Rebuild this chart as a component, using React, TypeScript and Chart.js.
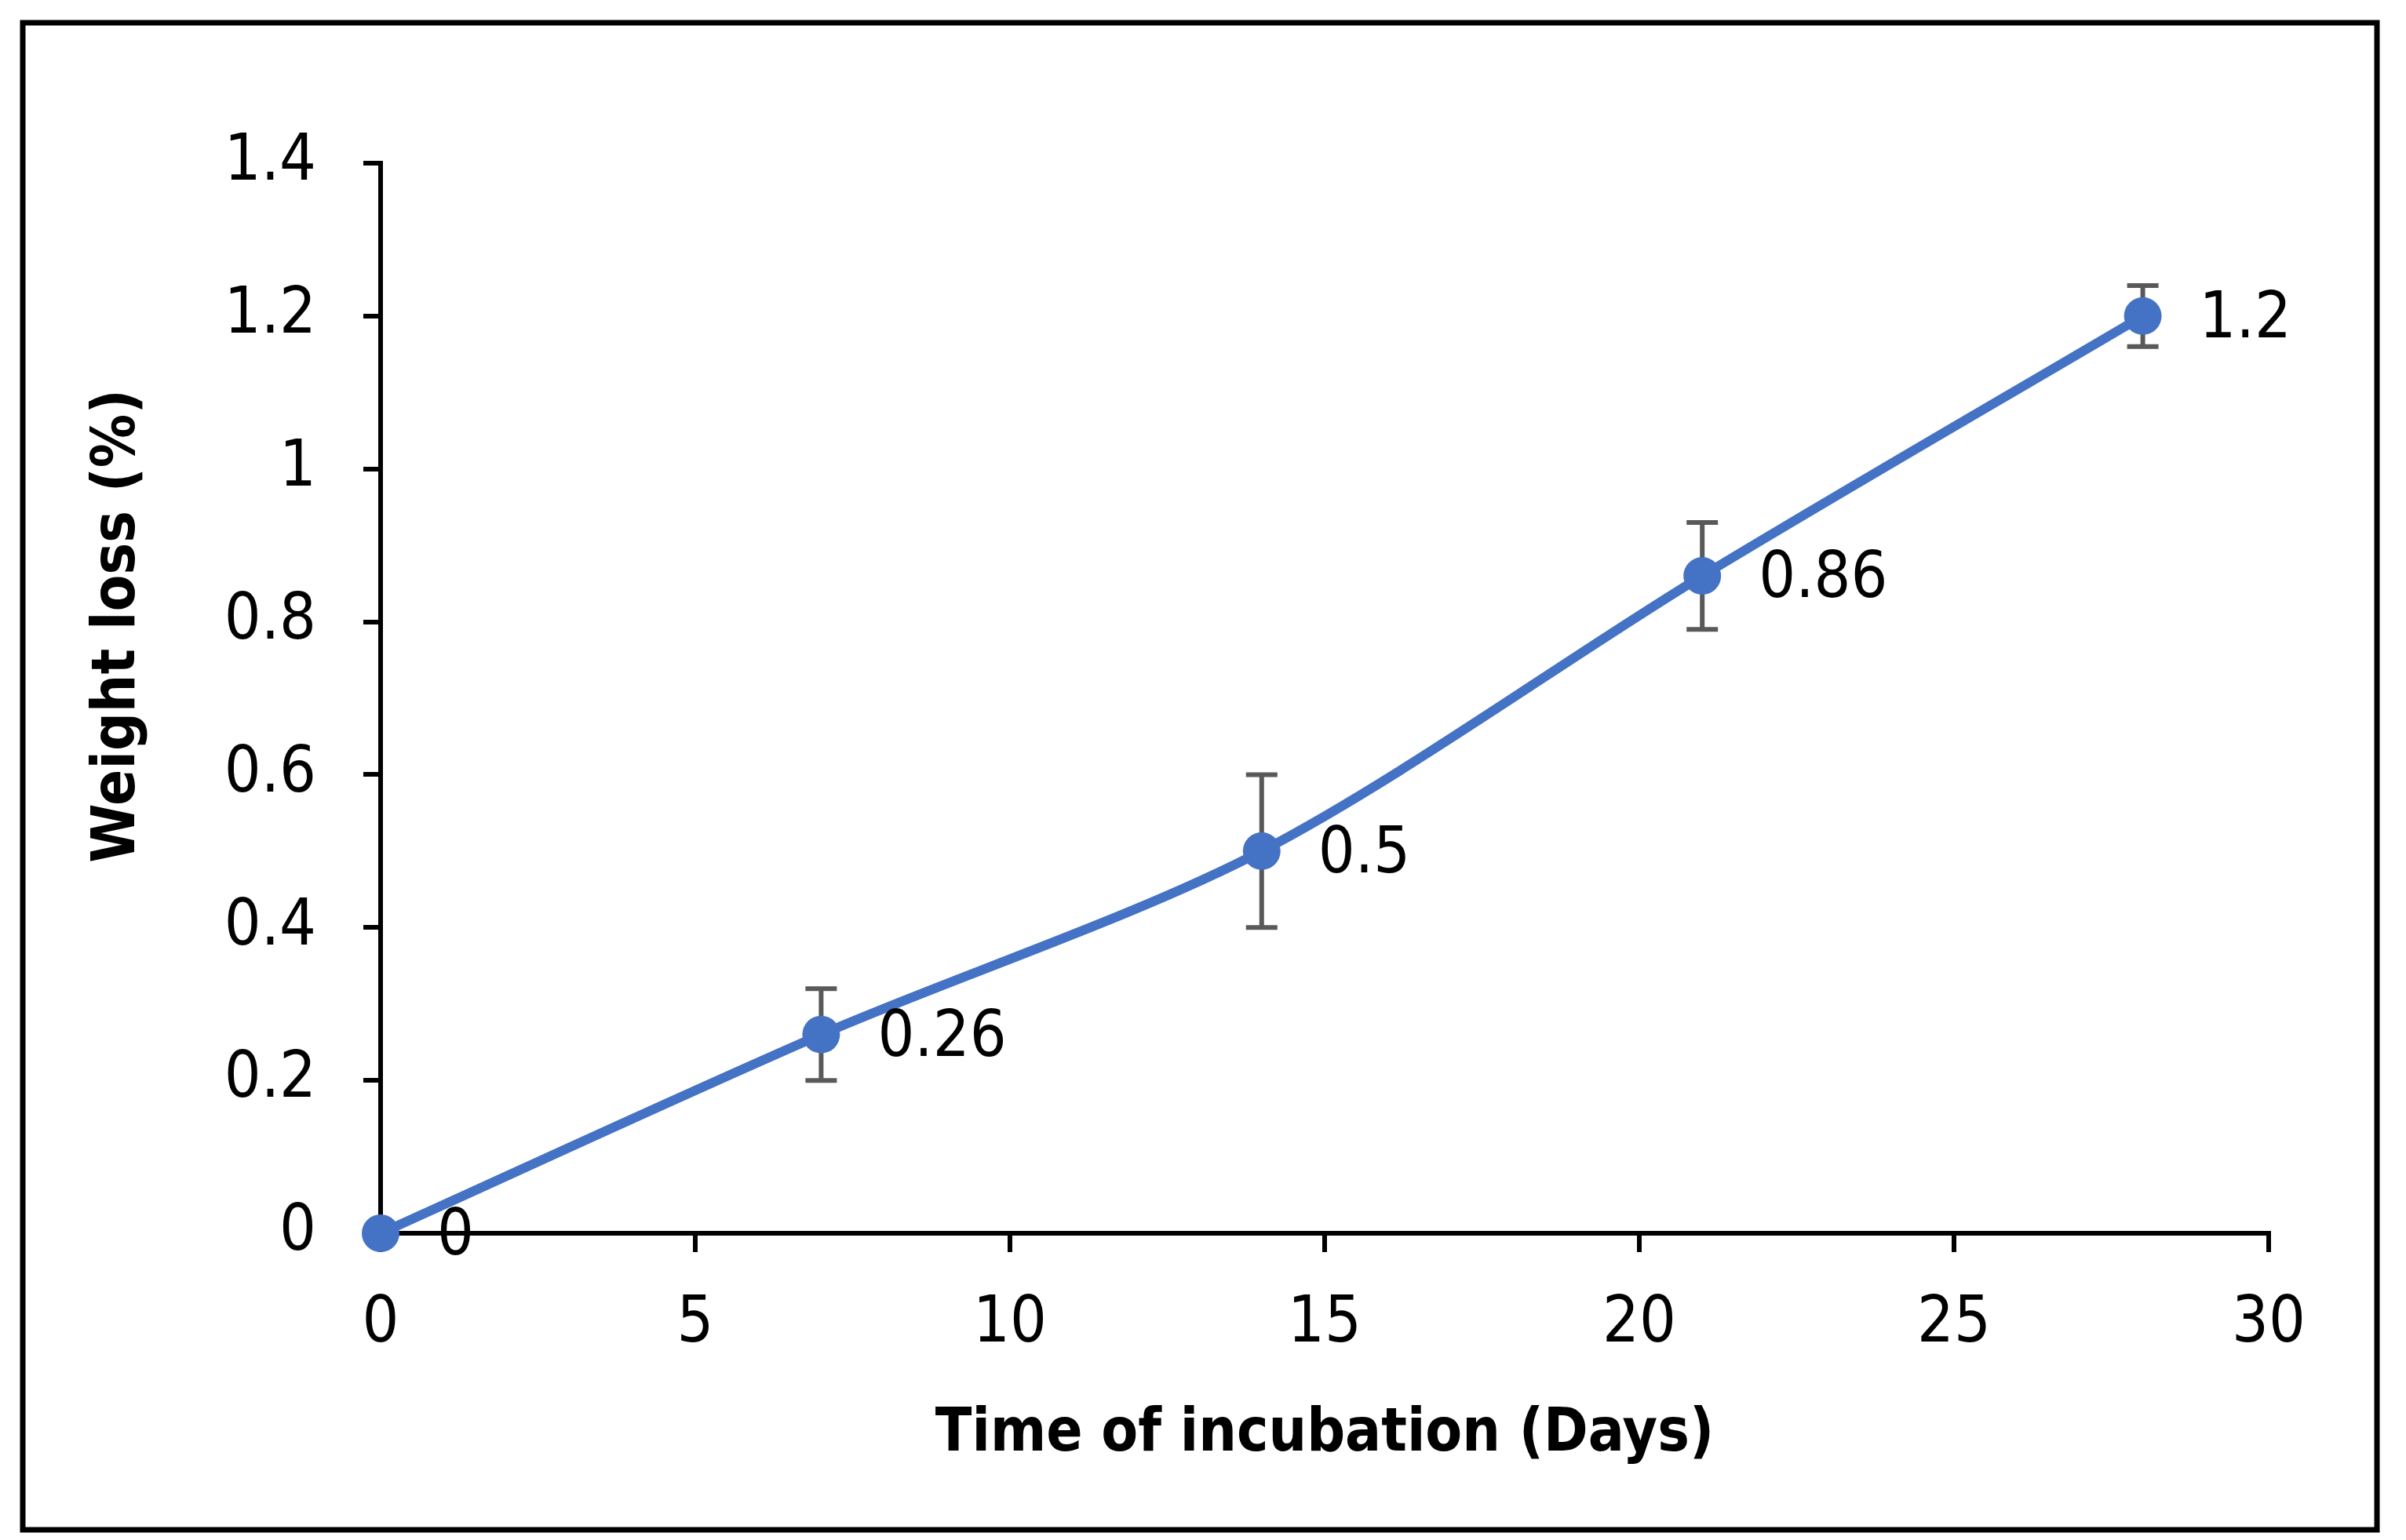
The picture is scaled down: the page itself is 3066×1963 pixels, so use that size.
import React, { useEffect, useRef } from "react";
import { Chart, registerables } from "chart.js";
Chart.register(...registerables);

// ---- data ----
const days = [0, 7, 14, 21, 28];
const weightLoss = [0, 0.26, 0.5, 0.86, 1.2];
const errPlus = [0, 0.06, 0.1, 0.07, 0.04];
const errMinus = [0, 0.06, 0.1, 0.07, 0.04];
const pointLabels = ["0", "0.26", "0.5", "0.86", "1.2"];
const yTickLabels = ["0", "0.2", "0.4", "0.6", "0.8", "1", "1.2", "1.4"];
const xTickLabels = ["0", "5", "10", "15", "20", "25", "30"];
const xTitle = "Time of incubation (Days)";
const yTitle = "Weight loss (%)";

const FONT = "'Liberation Sans Narrow', 'Arial Narrow', 'DejaVu Sans Condensed', 'Open Sans', sans-serif";
const BLUE = "#4472C4";
const TICK_SIZE = 82;
const TITLE_SIZE = 76;

const W = 3066;
const H = 1963;

const borderPlugin = {
  id: "outerBorder",
  beforeDraw(chart: any) {
    const ctx = chart.ctx;
    ctx.save();
    ctx.fillStyle = "#fff";
    ctx.fillRect(0, 0, chart.width, chart.height);
    ctx.strokeStyle = "#000";
    ctx.lineWidth = 7;
    ctx.strokeRect(29, 29, 3000, 1921);
    ctx.restore();
  },
};

const errorBarPlugin = {
  id: "errorBars",
  beforeDatasetsDraw(chart: any) {
    const ctx = chart.ctx;
    const xs = chart.scales.x;
    const ys = chart.scales.y;
    ctx.save();
    ctx.strokeStyle = "#595959";
    ctx.lineWidth = 6;
    days.forEach((d, i) => {
      if (!errPlus[i] && !errMinus[i]) return;
      const px = xs.getPixelForValue(d);
      const top = ys.getPixelForValue(weightLoss[i] + errPlus[i]);
      const bot = ys.getPixelForValue(weightLoss[i] - errMinus[i]);
      ctx.beginPath();
      ctx.moveTo(px, top);
      ctx.lineTo(px, bot);
      ctx.moveTo(px - 20, top);
      ctx.lineTo(px + 20, top);
      ctx.moveTo(px - 20, bot);
      ctx.lineTo(px + 20, bot);
      ctx.stroke();
    });
    ctx.restore();
  },
};

const labelPlugin = {
  id: "pointLabels",
  afterDatasetsDraw(chart: any) {
    const ctx = chart.ctx;
    const meta = chart.getDatasetMeta(0);
    ctx.save();
    ctx.fillStyle = "#000";
    ctx.font = `${TICK_SIZE}px ${FONT}`;
    ctx.textAlign = "left";
    ctx.textBaseline = "middle";
    meta.data.forEach((pt: any, i: number) => {
      ctx.fillText(pointLabels[i], pt.x + 72, pt.y + 6);
    });
    // y axis title
    const area = chart.chartArea;
    ctx.translate(151, (area.top + area.bottom) / 2 - 92);
    ctx.rotate(-Math.PI / 2);
    ctx.font = `bold ${TITLE_SIZE}px ${FONT}`;
    ctx.textAlign = "center";
    ctx.fillText(yTitle, 0, 0);
    ctx.restore();
  },
};

export default function App() {
  const ref = useRef<HTMLCanvasElement | null>(null);
  useEffect(() => {
    if (!ref.current) return;
    const chart = new Chart(ref.current, {
      type: "line",
      data: {
        datasets: [
          {
            data: days.map((d, i) => ({ x: d, y: weightLoss[i] })),
            borderColor: BLUE,
            backgroundColor: BLUE,
            borderWidth: 12,
            pointRadius: 24,
            pointBorderWidth: 0,
            pointBackgroundColor: BLUE,
            tension: 0.3,
            clip: false as any,
          },
        ],
      },
      options: {
        animation: false,
        responsive: false,
        devicePixelRatio: 1,
        layout: { padding: { left: 0, right: 175, top: 208, bottom: 0 } },
        plugins: {
          legend: { display: false },
          tooltip: { enabled: false },
        },
        scales: {
          x: {
            type: "linear",
            min: 0,
            max: 30,
            afterFit(scale: any) {
              scale.height = H - 1572;
            },
            ticks: {
              stepSize: 5,
              padding: 44,
              color: "#000",
              font: { family: FONT, size: TICK_SIZE },
              callback: (_v: any, i: number) => xTickLabels[i],
              maxRotation: 0,
            },
            grid: {
              display: true,
              drawOnChartArea: false,
              drawTicks: true,
              tickLength: 24,
              color: "#000",
              lineWidth: 6,
            },
            border: { display: true, color: "#000", width: 6 },
            title: {
              display: true,
              text: xTitle,
              color: "#000",
              font: { family: FONT, size: TITLE_SIZE, weight: "bold" },
              padding: { top: 0, bottom: 88 },
            },
          },
          y: {
            type: "linear",
            min: 0,
            max: 1.4,
            afterFit(scale: any) {
              scale.width = 485;
            },
            ticks: {
              stepSize: 0.2,
              padding: 60,
              color: "#000",
              font: { family: FONT, size: TICK_SIZE },
              callback: (_v: any, i: number) => yTickLabels[i],
            },
            grid: {
              display: true,
              drawOnChartArea: false,
              drawTicks: true,
              tickLength: 22,
              color: "#000",
              lineWidth: 6,
            },
            border: { display: true, color: "#000", width: 6 },
          },
        },
      },
      plugins: [borderPlugin, errorBarPlugin, labelPlugin],
    });
    return () => chart.destroy();
  }, []);
  return (
    <div style={{ position: "fixed", left: 0, top: 0, width: W, height: H, background: "#fff" }}>
      <canvas ref={ref} width={W} height={H} style={{ display: "block", width: W, height: H }} />
    </div>
  );
}
